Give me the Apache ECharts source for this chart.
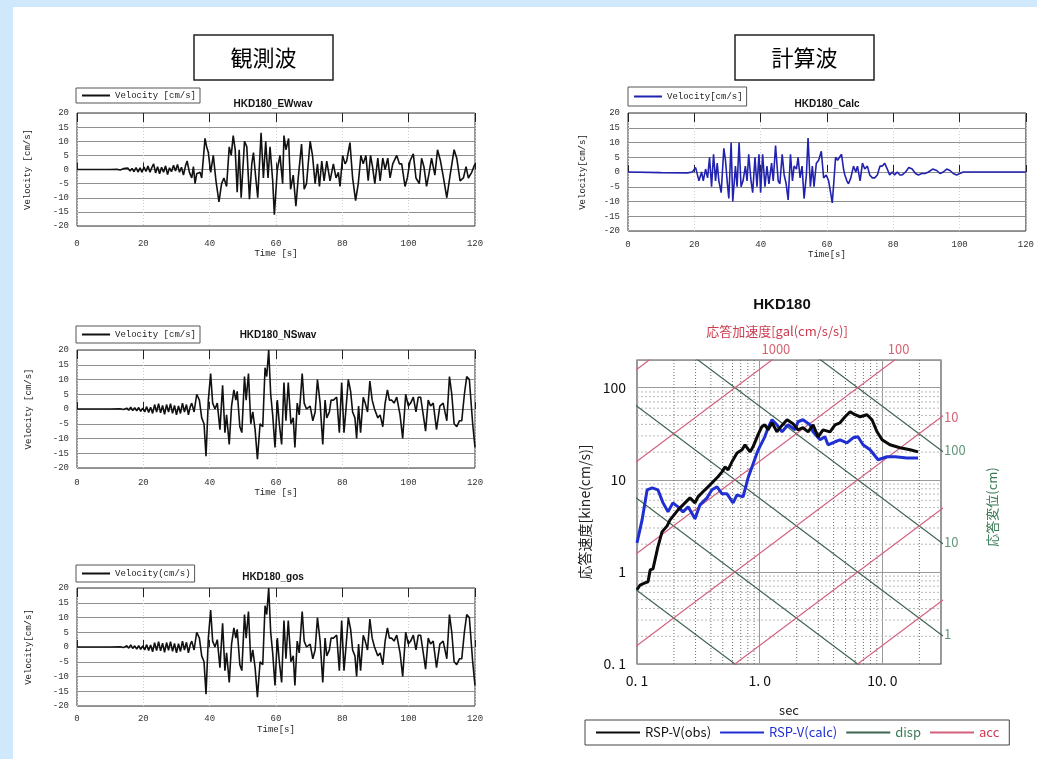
<!DOCTYPE html>
<html>
<head>
<meta charset="utf-8">
<title>HKD180 観測波・計算波</title>
<script src="https://cdn.jsdelivr.net/npm/echarts@6/dist/echarts.min.js"></script>
<style>
  html, body { margin: 0; padding: 0; background: #cfe8fb; }
  #sheet { position: absolute; left: 13px; top: 7px; width: 1024px; height: 752px; background: #ffffff; }
  #chart { position: absolute; left: 0; top: 0; width: 1037px; height: 759px; }
</style>
</head>
<body>
<div id="sheet"></div>
<div id="chart"></div>
<script>
// ---------------- velocity time histories: [time s, velocity cm/s] ----------------
const ewVelocity = [
  [0,0],[10,0],[12,0.1],[13,-0.2],[14,0.3],[14.6,-0.3],[15.3,0.5],[16,-0.5],[16.6,0.4],[17.2,-0.8],
  [17.8,0.7],[18.4,-0.9],[19,0.6],[19.6,-1],[20.2,0.9],[20.8,-0.7],[21.4,1.2],[22,-1],[22.6,0.8],[23.1,2],
  [23.7,-1.2],[24.3,1],[24.9,-1.5],[25.5,0.8],[26.1,-1],[26.7,1.3],[27.3,-1.8],[27.9,0.6],[28.5,-0.8],[29.1,1.5],
  [29.7,-0.5],[30.3,1.8],[30.9,-1],[31.5,0.8],[32.1,-2],[32.7,1.2],[33.2,3],[33.9,-1],[34.6,-3],[35.1,1],
  [35.6,-5],[36.1,-1.5],[36.6,-2],[37.1,-1],[37.6,-3],[38.6,11],[39.1,8],[39.6,6],[40.3,-1],[41.1,5],
  [41.9,-4],[42.8,-11.5],[43.6,-5],[44.3,-3],[45.1,-6],[45.9,8],[46.5,5],[47.1,12],[47.7,7],[48.3,-8],
  [48.9,7],[49.5,-10],[50.5,10],[51.2,8],[52,-10.5],[52.7,2],[53.2,6],[53.9,-3],[54.5,-10],[55.5,13],
  [56.2,-3],[56.9,10],[57.6,-3],[58.2,8],[59,-4],[59.5,-16],[60.4,0],[61.2,5],[62,-5],[62.4,12],
  [63,7],[63.8,11],[64.4,-7],[65.2,-2],[66,-13],[66.7,-3],[67.7,9],[68.5,-7],[69.2,-5],[70.3,10],
  [71,5],[71.8,-5],[72.5,2],[73.1,-6],[73.8,3],[74.5,-4],[75.3,3],[76.3,-4],[77.3,2],[78.1,-3],
  [78.8,-1],[79.3,-6],[80.1,5],[80.8,2],[81.3,3],[82.3,9.5],[83.1,-3],[84,-11],[84.8,-5],[85.6,5],
  [86.3,2],[87.1,5],[87.8,-4],[88.5,5],[89.1,1],[89.8,-5],[90.7,4],[91.4,-4],[92.2,4],[92.9,0],
  [93.7,4],[94.4,-3],[95.2,2],[96.4,5],[97.2,2],[97.9,2],[98.9,-6],[99.6,-3],[100.4,3],[101.4,5.5],
  [102.2,-3],[103.2,-5],[103.9,4],[104.6,1],[105.4,-6],[106.2,-1],[106.9,4],[107.9,-2],[108.7,7],[109.6,3],
  [110.5,-3],[111.5,-10],[112.5,-2],[113.7,7],[114.5,4],[115.5,-4],[116.5,-3],[117.3,1],[118,-3],[119,-1],
  [120,2]
];

const nsVelocity = [
  [0,0],[10,0],[13,0.1],[14,-0.2],[15,0.3],[15.6,-0.4],[16.2,0.6],[16.8,-0.5],[17.4,0.4],[18,-0.6],
  [18.6,0.5],[19.2,-0.8],[19.8,0.3],[20.4,-1],[21,0.8],[21.6,-1.2],[22.2,0.6],[22.8,-1.5],[23.4,1.5],[24,-1],
  [24.6,1.8],[25.2,-1.3],[25.8,1.2],[26.4,-1.8],[27,1.5],[27.6,-1],[28.2,1.8],[28.8,-1.5],[29.4,1.2],[30,-2],
  [30.6,1],[31.2,-1.5],[31.8,2],[32.4,-1],[33,1.5],[33.6,-2],[34.2,1],[34.6,2],[35.3,-1],[36.1,5],
  [36.9,3],[37.6,-3],[38.3,-5],[38.9,-16],[39.6,3],[40.3,12],[40.9,2],[41.6,0],[42.3,2],[43.1,-7],
  [43.9,8],[44.6,-8],[45.1,-2],[45.9,-12],[46.6,1],[47.3,6.5],[47.9,3],[48.3,6],[49.1,-6],[49.7,-8],
  [50.5,11],[51,3],[51.7,12],[52.4,-5],[53,-1],[53.7,-7],[54.4,-17],[55.2,-5],[56,-6],[56.7,14],
  [57.2,11],[57.8,20],[58.4,5],[59,-2],[59.7,-13],[60.4,3],[61,-5],[61.7,-12],[62.4,9],[63,-4],
  [63.7,9],[64.5,-5],[65.2,-3],[65.7,-13],[66.4,2],[67,-2],[67.9,12],[68.5,2],[69.2,0],[70.3,1],
  [71.1,-4],[71.8,-1],[72.5,10],[73.3,2],[74.1,-12],[74.8,3],[75.3,-3],[76.1,-1],[76.6,3],[77.3,3],
  [78.3,4],[79.1,-8],[79.8,9],[80.5,-8],[81.1,0],[81.8,10],[82.5,6],[83.1,-1],[83.8,-3],[84.3,-10],
  [84.9,1],[85.5,-8],[86.3,4],[86.9,2],[87.6,-1],[88.3,9.5],[89,3],[89.7,0],[90.7,-3],[91.4,-2],
  [92.2,-6],[92.9,2],[93.6,6.5],[94.2,3],[94.9,3],[95.6,2],[96.4,4],[97.4,-2],[98.2,-10],[99.1,5],
  [99.9,1],[100.6,2],[101.4,4],[102.2,-1],[102.9,4],[103.6,4],[104.4,-2],[105.1,-7.5],[105.9,3],[106.6,1],
  [107.4,2],[108.4,-7],[109.4,1],[110.4,2],[111.5,-4],[112.3,11],[113,5],[113.7,-5],[114.5,-6],[115.3,-4],
  [116,-4],[116.8,5],[117.5,11],[118.3,10],[119.3,-5],[120,-13]
];

const gosVelocity = [
  [0,0],[10,0],[13,0.1],[14,-0.2],[15,0.4],[15.6,-0.4],[16.2,0.7],[16.8,-0.5],[17.4,0.4],[18,-0.7],
  [18.6,0.5],[19.2,-0.8],[19.8,0.4],[20.4,-1],[21,0.8],[21.6,-1.2],[22.2,0.7],[22.8,-1.6],[23.4,1.5],[24,-1.2],
  [24.6,1.8],[25.2,-1.3],[25.8,1.3],[26.4,-1.8],[27,1.5],[27.6,-1.1],[28.2,1.8],[28.8,-1.5],[29.4,1.2],[30,-2],
  [30.6,1.1],[31.2,-1.5],[31.8,2],[32.4,-1],[33,1.6],[33.6,-2],[34.2,1],[34.6,2],[35.3,-1],[36.1,5],
  [36.9,3],[37.6,-3],[38.3,-5],[38.9,-16],[39.6,3],[40.3,12.5],[40.9,2],[41.6,0],[42.3,2.5],[43.1,-7],
  [43.9,8],[44.6,-8],[45.1,-2],[45.9,-12],[46.6,1],[47.3,6.5],[47.9,3],[48.3,6],[49.1,-6],[49.7,-8],
  [50.5,11],[51,3],[51.7,12],[52.4,-5],[53,-1],[53.7,-7],[54.4,-17],[55.2,-5],[56,-6],[56.7,14],
  [57.2,11],[57.8,20],[58.4,5],[59,-2],[59.7,-13],[60.4,3],[61,-5],[61.7,-12],[62.4,9],[63,-4],
  [63.7,9],[64.5,-5],[65.2,-3],[65.7,-13],[66.4,2],[67,-2],[67.9,12],[68.5,2],[69.2,0],[70.3,1],
  [71.1,-4],[71.8,-1],[72.5,10],[73.3,2],[74.1,-12],[74.8,3],[75.3,-3],[76.1,-1],[76.6,3],[77.3,3],
  [78.3,4],[79.1,-8],[79.8,9],[80.5,-8],[81.1,0],[81.8,10],[82.5,6],[83.1,-1],[83.8,-3],[84.3,-10],
  [84.9,1],[85.5,-8],[86.3,4],[86.9,2],[87.6,-1],[88.3,9.5],[89,3],[89.7,0],[90.7,-3],[91.4,-2],
  [92.2,-6],[92.9,2],[93.6,6.5],[94.2,3],[94.9,3],[95.6,2],[96.4,4],[97.4,-2],[98.2,-10],[99.1,5],
  [99.9,1],[100.6,2],[101.4,4],[102.2,-1],[102.9,4],[103.6,4],[104.4,-2],[105.1,-7.5],[105.9,3],[106.6,1],
  [107.4,2],[108.4,-7],[109.4,1],[110.4,2],[111.5,-4],[112.3,11],[113,5],[113.7,-5],[114.5,-6],[115.3,-4],
  [116,-4],[116.8,5],[117.5,11],[118.3,10],[119.3,-5],[120,-13]
];

const calcVelocity = [
  [0,0],[10,-0.2],[18,-0.3],[19.4,0],[20.4,1.5],[20.9,2],[21.4,-3],[22.2,0],[22.7,-3],[23.4,1],
  [24,-2],[24.6,5],[25.2,-5],[25.8,6],[26.4,-3],[26.9,3],[27.4,-3],[28.1,-7],[28.9,8],[29.4,4],
  [29.9,-3],[30.4,-9],[31.1,10],[31.6,-10],[32.4,2],[32.9,-5],[33.5,10],[34.1,-5],[34.7,-3],[35.4,2],
  [35.9,-3],[36.4,6],[37.1,-3],[37.6,-7],[38.3,5],[38.9,-5],[39.5,6],[40,-7],[40.6,6],[41.3,-5],
  [41.9,2],[42.5,-4],[43.3,3],[43.8,-3],[44.5,9],[45.3,-3],[45.8,-4],[46.5,6],[47.1,-1],[47.7,-4],
  [48.3,-9.5],[49,6],[49.6,-3],[50.1,2],[50.8,1],[51.3,5],[51.9,-2],[52.5,2],[53.1,-9],[53.8,-1],
  [54.3,11.5],[55,-5],[55.6,2],[56.1,-5],[56.8,3],[57.5,4],[58.3,7],[59,-2],[59.8,-1],[60.5,-3],
  [61.1,-7],[61.6,-10.5],[62.1,-3],[62.6,5],[63.2,4],[63.8,5],[64.4,6],[65,1],[65.4,-1],[66,-3],
  [66.5,-4],[67.2,-2],[68,2],[68.7,0],[69.2,2],[70,-3],[70.7,3],[71.4,1],[72.2,2],[72.9,-1],
  [73.7,-2],[74.4,-2],[75.2,-1],[76,2],[76.7,2],[77.4,3],[78.2,1],[78.9,-1],[79.7,0],[80.4,-1],
  [81.2,0],[82,-1],[82.7,-1],[83.7,0],[84.7,1.5],[85.7,1],[86.7,-0.5],[87.6,-1],[88.6,-0.5],[89.6,-0.5],
  [90.6,0],[91.9,1],[93.1,0.5],[94.1,-0.5],[95.1,0],[96.1,1],[97.1,0.5],[98.1,-0.5],[99.1,-1],[100.1,-0.5],
  [101.1,0],[120,0]
];

// ---------------- velocity response spectra (h = 5%) ----------------
const periodObs = [0.100,0.106,0.116,0.123,0.128,0.135,0.148,0.160,0.176,0.186,
  0.216,0.246,0.270,0.297,0.314,0.358,0.379,0.432,0.457,0.493,
  0.521,0.552,0.594,0.653,0.718,0.759,0.834,0.882,0.968,1.04,
  1.10,1.17,1.26,1.38,1.46,1.67,1.87,2.05,2.25,2.48,
  2.72,2.99,3.28,3.74,4.11,4.51,4.96,5.45,5.98,6.57,
  7.48,8.22,9.04,9.93,11.5,13.9,16.8,19.5];
const svObs = [0.64,0.72,0.76,0.78,1.05,1.08,1.87,2.72,3.16,3.67,
  4.72,5.62,6.37,5.62,6.53,7.79,8.39,10.0,10.8,12.2,
  13.8,12.8,15.7,19.6,21.2,24.0,20.1,22.8,30.8,37.7,
  39.6,34.9,41.6,33.2,36.8,44.9,40.6,34.9,36.8,33.2,
  39.6,29.3,34.9,33.2,39.6,41.6,48.4,54.9,50.9,48.4,
  50.9,44.9,33.2,27.2,24.0,22.3,21.2,20.1];

const periodCalc = [0.100,0.110,0.121,0.133,0.148,0.163,0.179,0.196,0.216,0.237,
  0.261,0.297,0.326,0.372,0.408,0.449,0.493,0.541,0.606,0.653,
  0.731,0.804,0.865,0.950,1.00,1.10,1.17,1.26,1.38,1.52,
  1.70,1.94,2.05,2.25,2.57,2.72,3.10,3.40,3.60,4.11,
  4.51,5.14,5.76,6.32,6.95,7.93,9.21,10.9,12.7,15.8,
  19.5];
const svCalc = [2.07,3.67,7.79,8.18,7.79,5.62,4.49,5.62,5.09,4.49,
  5.09,3.77,5.35,6.37,7.79,8.39,7.04,7.04,5.62,6.87,
  6.53,10.5,13.8,19.6,22.8,29.3,36.8,44.9,39.6,33.2,
  39.6,34.9,42.7,44.9,39.6,33.2,27.2,29.3,24.0,25.9,
  27.2,25.2,28.6,29.3,24.0,21.2,16.5,17.8,17.8,17.3,
  17.3];

// tripartite reference levels
const accLevels  = [0.1, 1, 10, 100, 1000, 10000];      // gal
const dispLevels = [0.01, 0.1, 1, 10, 100];             // cm
const accLabelLevels  = [1000, 100, 10];
const dispLabelLevels = [100, 10, 1];

// log-axis grid
const minorPeriods    = [0.2,0.3,0.4,0.5,0.6,0.7,0.8,0.9,2,3,4,5,6,7,8,9,20];
const minorVelocities = [0.2,0.3,0.4,0.5,0.6,0.7,0.8,0.9,2,3,4,5,6,7,8,9,20,30,40,50,60,70,80,90];
const periodTickLabels = ['0. 1', '1. 0', '10. 0'];        // 0.1, 1, 10 s
const svTickLabels     = ['0. 1', '1', '10', '100'];       // 0.1 .. 100 kine

// ---------------- layout / style ----------------
const T_MIN = 0.1, T_MAX = 30, SV_MIN = 0.1, SV_MAX = 200;
const TWO_PI = 2 * Math.PI;
const CJK = "'Noto Sans CJK JP', 'Noto Sans', sans-serif";
const MONO = "'Liberation Mono', 'DejaVu Sans Mono', monospace";
const BOLD = "'Liberation Sans', 'DejaVu Sans', sans-serif";
const BLACK = '#111111', NAVY = '#2222b0', BLUE = '#1f2fd2';
const GREEN = '#3d6450', GREEN_TXT = '#3a7a55', PINK = '#d4607c', RED_TXT = '#cc3b4f';
const NO_MARKER = { opacity: 0 };   // legend keys show the line only

const wavePanels = [
  { data: ewVelocity,   color: BLACK, title: 'HKD180_EWwav', titleX: 273, titleY: 104,
    legend: 'Velocity [cm/s]', yName: 'Velocity [cm/s]', xName: 'Time [s]',
    box: { left: 77, top: 113, width: 398, height: 113 }, legendPos: { left: 76, top: 88, pad: [3, 4, 3, 5] },
    labelMargin: 13, nameGap: 22, yNameGap: 45 },
  { data: calcVelocity, color: NAVY, title: 'HKD180_Calc', titleX: 827, titleY: 104,
    legend: 'Velocity[cm/s]', yName: 'Velocity[cm/s]', xName: 'Time[s]',
    box: { left: 628, top: 113, width: 402, height: 118 }, legendPos: { left: 628, top: 87, pad: [5, 4, 5, 5] },
    labelMargin: 9, nameGap: 19, yNameGap: 41 },
  { data: nsVelocity,   color: BLACK, title: 'HKD180_NSwav', titleX: 278, titleY: 335,
    legend: 'Velocity [cm/s]', yName: 'Velocity [cm/s]', xName: 'Time [s]',
    box: { left: 77, top: 350, width: 398, height: 118 }, legendPos: { left: 76, top: 326, pad: [4, 4, 4, 5] },
    labelMargin: 10, nameGap: 20, yNameGap: 44 },
  { data: gosVelocity,  color: BLACK, title: 'HKD180_gos', titleX: 273, titleY: 577,
    legend: 'Velocity(cm/s)', yName: 'Velocity[cm/s]', xName: 'Time[s]',
    box: { left: 77, top: 588, width: 398, height: 118 }, legendPos: { left: 76, top: 565, pad: [4, 4, 4, 5] },
    labelMargin: 8, nameGap: 19, yNameGap: 44 }
];

const grids = [], xAxes = [], yAxes = [], series = [], legends = [], graphics = [];

function textEl(x, y, text, font, fill, extra) {
  return Object.assign({
    type: 'text', x: x, y: y, silent: true,
    style: { text: text, font: font, fill: fill, align: 'center', verticalAlign: 'middle',
             textAlign: 'center', textVerticalAlign: 'middle' }
  }, extra || {});
}

// ---- four velocity panels ----
wavePanels.forEach(function (p, i) {
  grids.push(Object.assign({ show: true, borderColor: '#333', borderWidth: 1, containLabel: false }, p.box));
  const xIndex = xAxes.length;
  xAxes.push({
    gridIndex: i, type: 'value', min: 0, max: 120, interval: 20, position: 'bottom',
    axisLine: { show: false }, axisTick: { show: true, inside: true, length: 7, lineStyle: { color: '#222' } },
    axisLabel: { fontSize: 9, color: '#333', margin: p.labelMargin, fontFamily: MONO },
    splitLine: { show: true, lineStyle: { color: '#d0d0d0', type: [1, 2] } },
    name: p.xName, nameLocation: 'middle', nameGap: p.nameGap,
    nameTextStyle: { fontSize: 9, color: '#222', fontFamily: MONO }
  });
  xAxes.push({
    gridIndex: i, type: 'value', min: 0, max: 120, interval: 20, position: 'top',
    axisLine: { show: false }, axisTick: { show: true, inside: true, length: 9, lineStyle: { color: '#222' } },
    axisLabel: { show: false }, splitLine: { show: false }
  });
  yAxes.push({
    gridIndex: i, type: 'value', min: -20, max: 20, interval: 5,
    axisLine: { show: false }, axisTick: { show: false },
    axisLabel: { fontSize: 9, color: '#333', margin: 8, fontFamily: MONO },
    splitLine: { show: true, lineStyle: { color: '#8f8f8f', width: 1 } },
    name: p.yName, nameLocation: 'middle', nameGap: p.yNameGap, nameRotate: 90,
    nameTextStyle: { fontSize: 9, color: '#222', fontFamily: MONO }
  });
  series.push({
    type: 'line', name: p.legend, xAxisIndex: xIndex, yAxisIndex: i, data: p.data,
    symbol: 'none', lineStyle: { color: p.color, width: 1.6 }, itemStyle: { color: p.color },
    silent: true, z: 3
  });
  legends.push({
    left: p.legendPos.left, top: p.legendPos.top, data: [p.legend], selectedMode: false,
    orient: 'horizontal', itemWidth: 28, itemHeight: 8, itemGap: 2, itemStyle: NO_MARKER,
    padding: p.legendPos.pad, borderColor: '#555', borderWidth: 1, backgroundColor: '#fff',
    textStyle: { fontSize: 9, color: '#222', fontFamily: MONO }
  });
  graphics.push(textEl(p.titleX, p.titleY, p.title, 'bold 10px ' + BOLD, '#111'));
});

// ---- tripartite response spectrum ----
const TG = wavePanels.length;               // grid index
const TX = xAxes.length;                    // x axis index
grids.push({ left: 637, top: 360, width: 304, height: 304, show: true, borderColor: '#555', borderWidth: 1.2 });

function decadeLabel(labels, offset) {
  return function (v) {
    const e = Math.log10(v), k = Math.round(e);
    if (Math.abs(e - k) > 1e-6) return '';
    return labels[k + offset] || '';
  };
}

xAxes.push({
  gridIndex: TG, type: 'log', logBase: 10, min: T_MIN, max: T_MAX,
  axisLine: { show: false }, axisTick: { show: false },
  axisLabel: { fontSize: 14, color: '#111', margin: 10, fontFamily: CJK, formatter: decadeLabel(periodTickLabels, 1) },
  splitLine: { show: true, lineStyle: { color: '#9a9a9a', width: 1 } },
  name: 'sec', nameLocation: 'middle', nameGap: 40, nameTextStyle: { fontSize: 13, color: '#222', fontFamily: CJK }
});
yAxes.push({
  gridIndex: TG, type: 'log', logBase: 10, min: SV_MIN, max: SV_MAX,
  axisLine: { show: false }, axisTick: { show: false },
  axisLabel: { fontSize: 14, color: '#111', margin: 11, fontFamily: CJK, formatter: decadeLabel(svTickLabels, 1) },
  splitLine: { show: true, lineStyle: { color: '#9a9a9a', width: 1 } },
  name: '応答速度[kine(cm/s)]', nameLocation: 'middle', nameGap: 45, nameRotate: 90,
  nameTextStyle: { fontSize: 14, color: '#222', fontFamily: CJK }
});

const triAxes = { xAxisIndex: TX, yAxisIndex: TG, symbol: 'none', silent: true, type: 'line' };

minorPeriods.forEach(function (t) {
  series.push(Object.assign({}, triAxes, {
    data: [[t, SV_MIN], [t, SV_MAX]], z: 1,
    lineStyle: { color: '#6f6f6f', width: 1, type: [1, 2] }
  }));
});
minorVelocities.forEach(function (v) {
  series.push(Object.assign({}, triAxes, {
    data: [[T_MIN, v], [T_MAX, v]], z: 1,
    lineStyle: { color: '#b8b8b8', width: 1, type: [2, 2] }
  }));
});

// constant displacement: Sv = 2π·Sd / T ; constant acceleration: Sv = Sa·T / 2π
dispLevels.forEach(function (d) {
  series.push(Object.assign({}, triAxes, {
    name: 'disp', z: 2, data: [[0.01, TWO_PI * d / 0.01], [1000, TWO_PI * d / 1000]],
    lineStyle: { color: GREEN, width: 1.2 }, itemStyle: { color: GREEN }
  }));
});
accLevels.forEach(function (a) {
  series.push(Object.assign({}, triAxes, {
    name: 'acc', z: 2, data: [[0.01, a * 0.01 / TWO_PI], [1000, a * 1000 / TWO_PI]],
    lineStyle: { color: PINK, width: 1.2 }, itemStyle: { color: PINK }
  }));
});

// level labels where each reference line leaves the frame
const levelLabels = [];
accLabelLevels.forEach(function (a) {
  const tTop = TWO_PI * SV_MAX / a;
  if (tTop <= T_MAX) {
    levelLabels.push({ value: [tTop, SV_MAX], label: { position: 'top', distance: 4, offset: [4, 0], color: RED_TXT, formatter: String(a) } });
  } else {
    levelLabels.push({ value: [T_MAX, a * T_MAX / TWO_PI], label: { position: 'right', distance: 3, color: RED_TXT, formatter: String(a) } });
  }
});
dispLabelLevels.forEach(function (d) {
  levelLabels.push({ value: [T_MAX, TWO_PI * d / T_MAX], label: { position: 'right', distance: 3, color: GREEN_TXT, formatter: String(d) } });
});
series.push({
  type: 'scatter', xAxisIndex: TX, yAxisIndex: TG, symbolSize: 0, silent: true, clip: false,
  data: levelLabels, label: { show: true, fontSize: 13, fontFamily: CJK }, z: 6
});

series.push(Object.assign({}, triAxes, {
  name: 'RSP-V(obs)', z: 5, data: periodObs.map(function (t, i) { return [t, svObs[i]]; }),
  lineStyle: { color: '#0a0a0a', width: 3 }, itemStyle: { color: '#0a0a0a' }
}));
series.push(Object.assign({}, triAxes, {
  name: 'RSP-V(calc)', z: 4, data: periodCalc.map(function (t, i) { return [t, svCalc[i]]; }),
  lineStyle: { color: BLUE, width: 3 }, itemStyle: { color: BLUE }
}));

legends.push({
  left: 585, top: 720, selectedMode: false, orient: 'horizontal',
  itemWidth: 44, itemHeight: 10, itemGap: 8, padding: [6, 10, 6, 10], itemStyle: NO_MARKER,
  borderColor: '#444', borderWidth: 1, backgroundColor: '#fff',
  textStyle: { fontSize: 13, fontFamily: CJK },
  data: [
    { name: 'RSP-V(obs)',  textStyle: { color: '#111' } },
    { name: 'RSP-V(calc)', textStyle: { color: BLUE } },
    { name: 'disp',        textStyle: { color: GREEN_TXT } },
    { name: 'acc',         textStyle: { color: RED_TXT } }
  ]
});

// headings and axis titles
graphics.push(textEl(782, 305, 'HKD180', 'bold 15px ' + BOLD, '#111'));
graphics.push(textEl(777, 331, '応答加速度[gal(cm/s/s)]', '13px ' + CJK, RED_TXT));
graphics.push(textEl(992, 507, '応答変位(cm)', '13px ' + CJK, GREEN_TXT, { rotation: Math.PI / 2 }));

[{ x: 194, text: '観測波' }, { x: 735, text: '計算波' }].forEach(function (b) {
  graphics.push({ type: 'rect', silent: true, shape: { x: b.x, y: 35, width: 139, height: 45 },
                  style: { fill: '#fff', stroke: '#222', lineWidth: 1.5 } });
  graphics.push(textEl(b.x + 69.5, 58, b.text, '22px ' + CJK, '#000'));
});

const chart = echarts.init(document.getElementById('chart'), null, { renderer: 'canvas' });
chart.setOption({
  animation: false,
  backgroundColor: 'transparent',
  grid: grids,
  xAxis: xAxes,
  yAxis: yAxes,
  legend: legends,
  series: series,
  graphic: { elements: graphics }
});
</script>
</body>
</html>
